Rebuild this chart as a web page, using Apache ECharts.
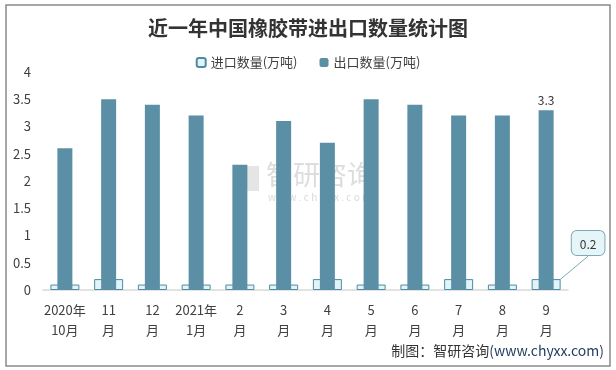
<!DOCTYPE html>
<html><head><meta charset="utf-8">
<script src="https://cdn.jsdelivr.net/npm/echarts@6/dist/echarts.min.js"></script>
<style>html,body{margin:0;padding:0;background:#fff}#c{width:616px;height:370px}</style>
</head><body><div id="c"></div>
<script>
const categories = ['2020年\n10月','11\n月','12\n月','2021年\n1月','2\n月','3\n月','4\n月','5\n月','6\n月','7\n月','8\n月','9\n月'];
const importValues = [0.1,0.2,0.1,0.1,0.1,0.1,0.2,0.1,0.1,0.2,0.1,0.2];
const exportValues = [2.6,3.5,3.4,3.2,2.3,3.1,2.7,3.5,3.4,3.2,3.2,3.3];
const yTicks = {min:0,max:4,interval:0.5};
const font = '"Noto Sans CJK SC", "Noto Sans", sans-serif';

const chart = echarts.init(document.getElementById('c'), null, {renderer:'canvas'});
const last = categories.length - 1;
chart.setOption({
  animation:false,
  backgroundColor:'#fff',
  title:{text:'近一年中国橡胶带进出口数量统计图',left:'center',top:13,
    textStyle:{fontFamily:font,fontSize:20,fontWeight:'bold',color:'#333'}},
  legend:{top:51,left:'center',itemWidth:9,itemHeight:9,itemGap:22,
    textStyle:{fontFamily:font,fontSize:13,color:'#404040'},
    data:['进口数量(万吨)','出口数量(万吨)']},
  grid:{left:43,right:48,top:72,bottom:80},
  xAxis:[
    {type:'category',data:categories,axisTick:{show:false},
     axisLine:{lineStyle:{color:'#d9d9d9',width:1.5}},
     axisLabel:{fontFamily:font,fontSize:13,color:'#404040',lineHeight:20,margin:10,interval:0}},
    {type:'category',data:categories,show:false}
  ],
  yAxis:{type:'value',min:yTicks.min,max:yTicks.max,interval:yTicks.interval,
    axisLine:{show:false},axisTick:{show:false},splitLine:{show:false},
    axisLabel:{fontFamily:font,fontSize:13,color:'#404040',margin:12}},
  series:[
    {name:'进口数量(万吨)',type:'bar',xAxisIndex:0,barWidth:29,
     itemStyle:{color:'#e0f4f9',borderColor:'#4f8ca0',borderWidth:1},
     labelLayout:function(p){ return p.dataIndex===last ? {dx:42,dy:-19} : {}; },
     labelLine:{show:true,lineStyle:{color:'#7fa8b8',width:1}},
     data:importValues.map((v,i)=> i===last ? {value:v,
        label:{show:true,position:'top',formatter:'{c}',fontFamily:font,fontSize:12,color:'#333',
          backgroundColor:'#e6f5f8',borderColor:'#7fa8b8',borderWidth:1,borderRadius:5,
          padding:[7,8,5,8]},
        labelLine:{show:true,lineStyle:{color:'#7fa8b8',width:1}}} : v)},
    {name:'出口数量(万吨)',type:'bar',xAxisIndex:1,barWidth:15,
     itemStyle:{color:'#5b8fa6'},
     data:exportValues.map((v,i)=> i===last ? {value:v,
        label:{show:true,position:'top',distance:4,fontFamily:font,fontSize:12,color:'#333'}} : v)}
  ],
  graphic:[
    {type:'rect',shape:{x:6,y:5,width:604,height:361},style:{fill:'none',stroke:'#8a8a8a',lineWidth:1.5},z:-1},
    {type:'text',left:266,top:161,style:{text:'智研咨询',fontFamily:font,fontSize:27,fill:'rgba(180,180,180,0.45)'}},
    {type:'rect',shape:{x:237,y:166,width:22,height:25},style:{fill:'rgba(180,180,180,0.35)'}},
    {type:'text',left:268,top:192,style:{text:'w w w . c h y x x . c o m',fontFamily:font,fontSize:10,fill:'rgba(180,180,180,0.5)'}},
    {type:'text',right:12,top:344,style:{rich:{a:{fontFamily:font,fontSize:14,fill:'#333'},b:{fontFamily:font,fontSize:14,fill:'#1f3a5c'}},text:'{a|制图：智研咨询}{b|(www.chyxx.com)}'}}
  ]
});
</script></body></html>
